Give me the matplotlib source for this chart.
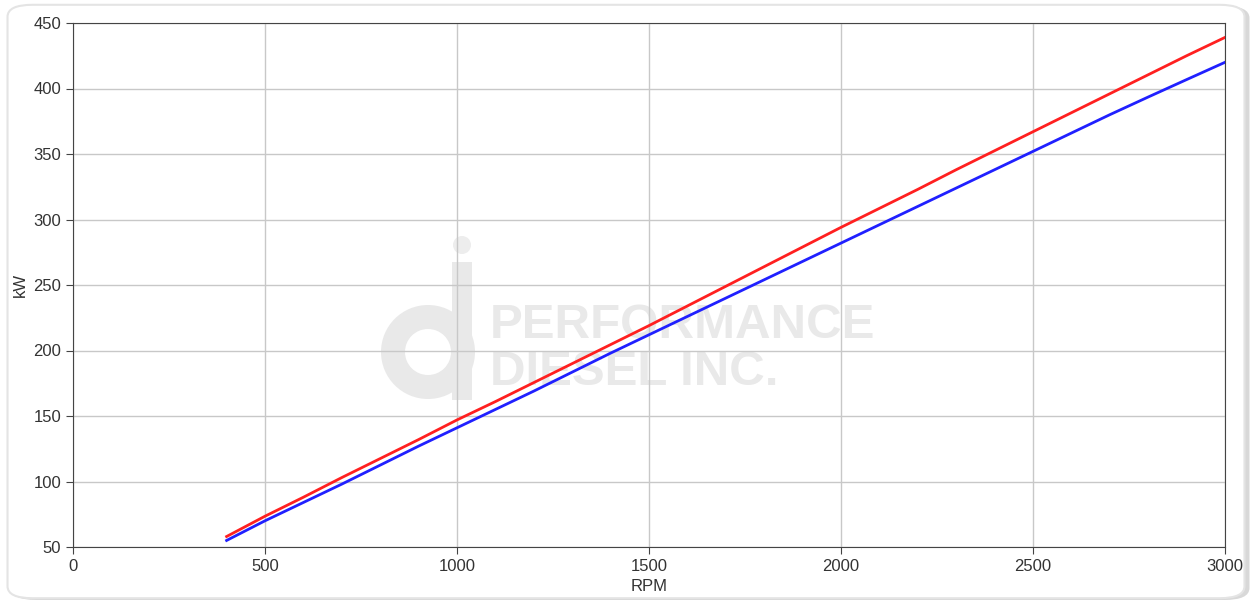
import numpy as np
import matplotlib.pyplot as plt
from matplotlib.patches import FancyBboxPatch, Circle, Wedge, Rectangle

plt.rcParams['font.family'] = ['Liberation Sans', 'DejaVu Sans']

rpm = [400, 500, 600, 700, 800, 900, 1000, 1100, 1200, 1300, 1400, 1500, 1600, 1700,
       1800, 1900, 2000, 2100, 2200, 2300, 2400, 2500, 2600, 2700, 2800, 2900, 3000]
kw_red = [58, 73.5, 88, 103, 117.5, 132, 147, 161, 175.5, 190, 204.5, 219, 234, 249,
          264, 279, 294, 308.5, 323, 338, 352.5, 367, 381.5, 396, 410.5, 425, 439]
kw_blue = [55, 70, 84, 98, 112.5, 127, 141, 155, 169, 183.5, 198, 212, 226, 240,
           254, 268, 282, 296, 310, 324, 338, 352, 366, 380, 393.5, 406.8, 420]

fig = plt.figure(figsize=(12.52, 6), dpi=100)

# rounded frame with a light shadow on the right
shadow = FancyBboxPatch((0.009, 0.0), 0.989, 0.99, boxstyle="round,pad=0,rounding_size=0.02",
                        transform=fig.transFigure, facecolor='#d8d8d8', edgecolor='none', zorder=-11)
frame = FancyBboxPatch((0.006, 0.003), 0.988, 0.989, boxstyle="round,pad=0,rounding_size=0.02",
                       transform=fig.transFigure, facecolor='white', edgecolor='#e4e4e4',
                       linewidth=1.5, zorder=-10)
fig.patches.append(shadow)
fig.patches.append(frame)

# watermark layer, in pixel coords
wax = fig.add_axes([0, 0, 1, 1], zorder=0)
wax.set_xlim(0, 1252)
wax.set_ylim(600, 0)
wax.axis('off')
wm = '#e9e9e9'
wax.add_patch(Wedge((428, 352), 47, 0, 360, width=24, facecolor=wm, edgecolor='none'))
wax.add_patch(Rectangle((452, 262), 20, 138, facecolor=wm, edgecolor='none'))
wax.add_patch(Circle((462, 245), 9, facecolor='#ededed', edgecolor='none'))
wax.text(490, 338, 'PERFORMANCE', fontsize=35.5, fontweight='bold', color=wm, va='baseline')
wax.text(490, 385, 'DIESEL INC.', fontsize=35.5, fontweight='bold', color=wm, va='baseline')

ax = fig.add_axes([73/1252, 53/600, 1152/1252, 524/600], zorder=1)
ax.set_facecolor('none')

ax.plot(rpm, kw_red, color='#ff2020', linewidth=2, zorder=3)
ax.plot(rpm, kw_blue, color='#2020ff', linewidth=2, zorder=3)

ax.set_xlim(0, 3000)
ax.set_ylim(50, 450)
ax.set_xticks(np.arange(0, 3001, 500))
ax.set_yticks(np.arange(50, 451, 50))
ax.grid(True, color='#c8c8c8', linewidth=1)
ax.set_axisbelow(True)
for s in ax.spines.values():
    s.set_color('#444444')
ax.tick_params(direction='out', length=5, color='#444444', labelsize=12, labelcolor='#333333')
ax.set_xlabel('RPM', fontsize=12, color='#333333', labelpad=4)
ax.set_ylabel('kW', fontsize=12, color='#333333', labelpad=4)

fig.savefig('out.png', dpi=100)
